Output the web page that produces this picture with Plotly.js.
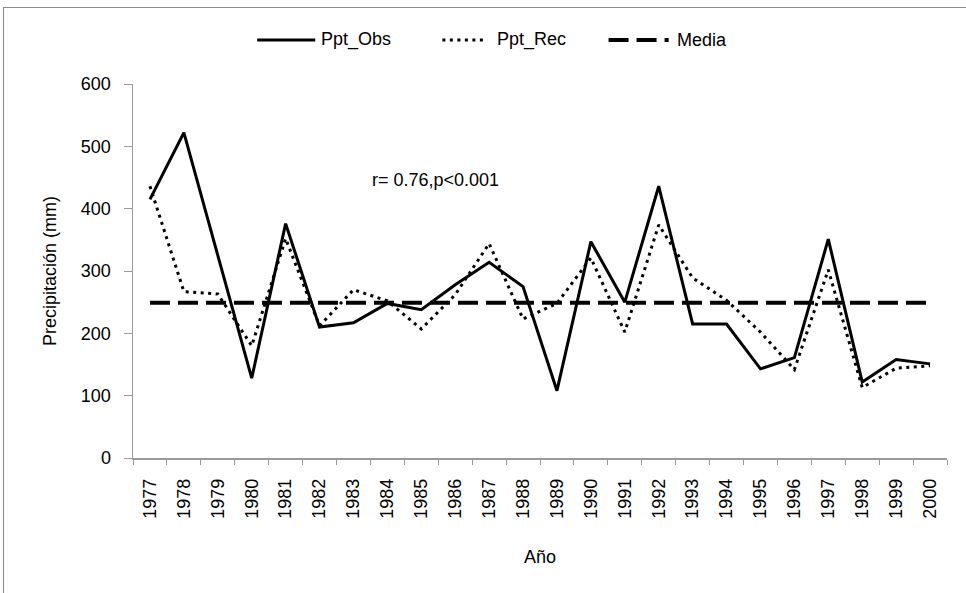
<!DOCTYPE html>
<html>
<head>
<meta charset="utf-8">
<script src="https://cdn.plot.ly/plotly-3.0.1.min.js"></script>
<style>
html,body{margin:0;padding:0;background:#fff;overflow:hidden;}
#frame{position:absolute;left:3px;top:7px;width:1000px;height:700px;border:1.5px solid #8c8c8c;box-sizing:border-box;pointer-events:none;z-index:5;}
#chart{position:absolute;left:0;top:0;width:966px;height:593px;}
</style>
</head>
<body>
<div id="chart"></div>
<div id="frame"></div>
<script>
const years = ['1977','1978','1979','1980','1981','1982','1983','1984','1985','1986','1987','1988',
               '1989','1990','1991','1992','1993','1994','1995','1996','1997','1998','1999','2000'];
const pptObs = [415, 522, 325, 128, 376, 210, 217, 248, 238, 278, 314, 275,
                108, 347, 250, 436, 215, 215, 143, 161, 351, 122, 158, 151];
const pptRec = [436, 267, 263, 180, 352, 212, 270, 252, 207, 262, 344, 223,
                248, 321, 202, 374, 289, 253, 202, 142, 302, 113, 144, 148];
const mediaValue = 249;
const media = years.map(() => mediaValue);
const seriesNames = ['Ppt_Obs', 'Ppt_Rec', 'Media'];
const annotationText = 'r= 0.76,p<0.001';

const font = 'Liberation Sans, Arial, sans-serif';
const black = '#000';
const styles = [
  {color: black, width: 3, dash: 'solid'},
  {color: black, width: 3, dash: '3px,4.5px'},
  {color: black, width: 4, dash: '20px,8px'}
];
const seriesData = [pptObs, pptRec, media];
const traces = seriesData.map((ys, i) => ({
  x: years, y: ys, name: seriesNames[i], type: 'scatter', mode: 'lines',
  line: styles[i], showlegend: false
}));

// Custom legend (line samples + labels) placed like the original
const L = 133, W = 813, B = 458, H = 374;
const px = v => (v - L) / W;
const py = v => (B - v) / H;
const legY = py(40);
const legendSpec = [[257, 315, 319], [442, 487, 495], [608, 668, 674]];
const shapes = legendSpec.map((s, i) => ({
  type: 'line', xref: 'paper', yref: 'paper', x0: px(s[0]), x1: px(s[1]), y0: legY, y1: legY,
  line: styles[i]
}));
const annotations = legendSpec.map((s, i) => ({
  text: seriesNames[i], xref: 'paper', yref: 'paper', x: px(s[2]), y: legY,
  xanchor: 'left', yanchor: 'middle', showarrow: false,
  font: {family: font, size: 18, color: black}
}));
annotations.push({text: annotationText, xref: 'paper', yref: 'paper', x: px(435), y: py(180),
  xanchor: 'center', yanchor: 'middle', showarrow: false,
  font: {family: font, size: 18, color: black}});

const layout = {
  width: 966, height: 593,
  margin: {l: 133, r: 19, t: 84, b: 135},
  paper_bgcolor: '#fff', plot_bgcolor: '#fff',
  font: {family: font, size: 18, color: black},
  showlegend: false,
  xaxis: {type: 'category', range: [-0.5, 23.5], tickangle: -90, tickson: 'boundaries',
          ticks: 'outside', ticklen: 5, ticklabelstandoff: 12,
          tickcolor: '#9a9a9a', showline: true, linecolor: '#9a9a9a', linewidth: 1.5,
          showgrid: false, zeroline: false, tickfont: {family: font, size: 18, color: black},
          title: {text: 'Año', font: {family: font, size: 18, color: black}, standoff: 32}},
  yaxis: {range: [0, 600], dtick: 100, ticks: 'outside', ticklen: 8, ticklabelstandoff: 9,
          tickcolor: '#9a9a9a', showline: true, linecolor: '#9a9a9a', linewidth: 1.5,
          showgrid: false, zeroline: false,
          tickfont: {family: font, size: 18, color: black},
          title: {text: 'Precipitación (mm)', font: {family: font, size: 18, color: black}, standoff: 19}},
  shapes: shapes,
  annotations: annotations
};
Plotly.newPlot('chart', traces, layout, {displayModeBar: false, staticPlot: true});
</script>
</body>
</html>
